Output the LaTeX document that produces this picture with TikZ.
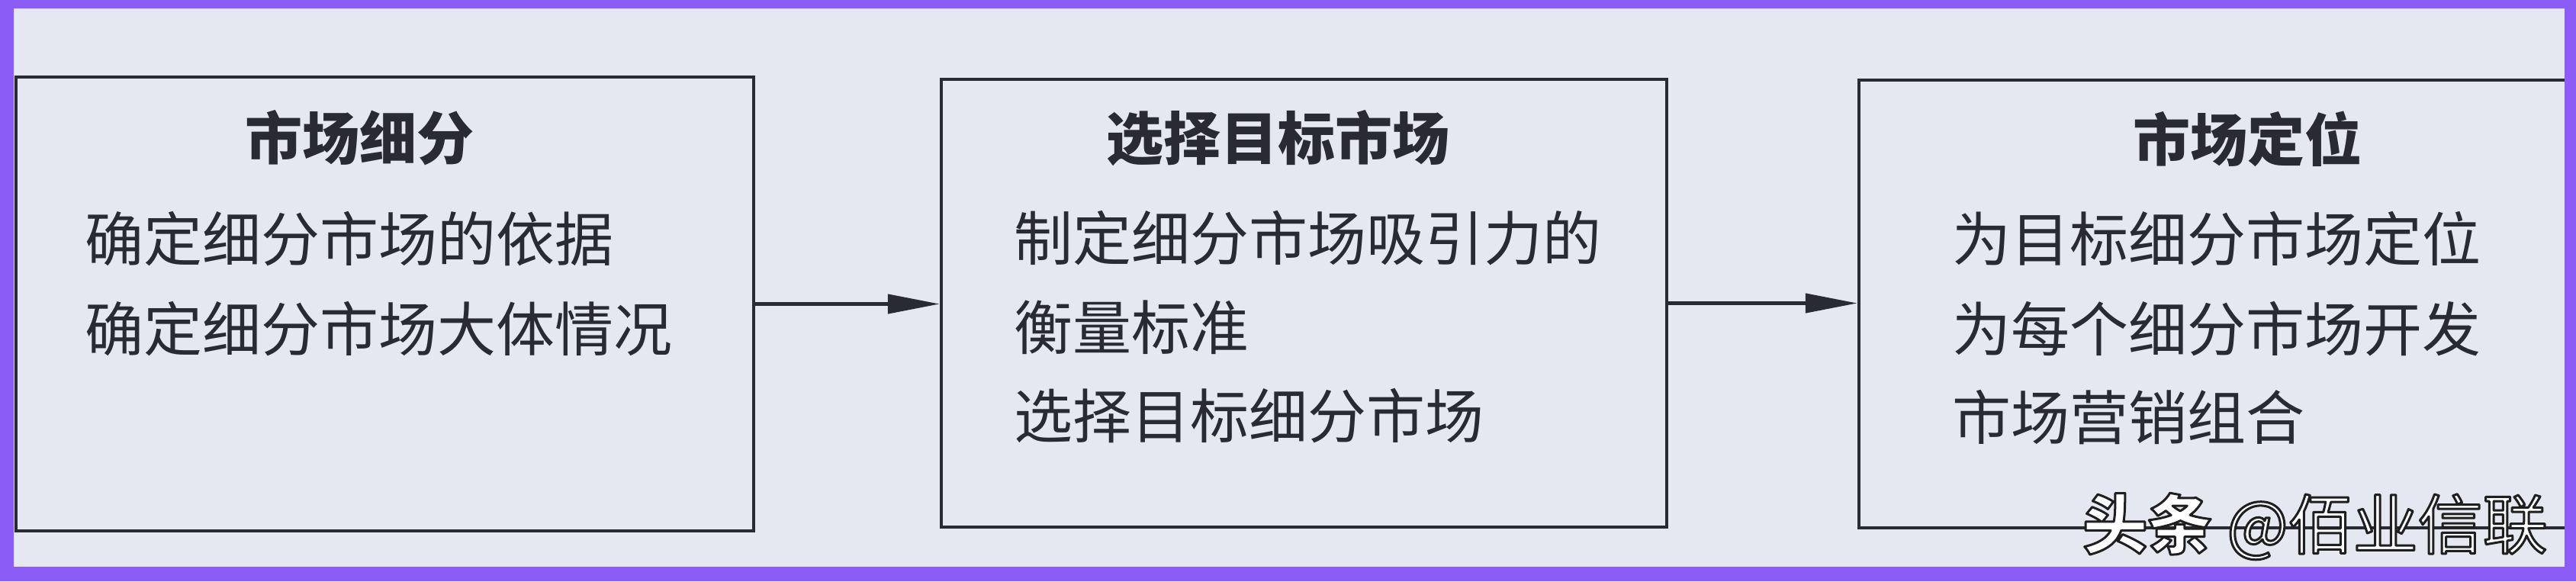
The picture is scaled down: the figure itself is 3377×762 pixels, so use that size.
\documentclass[tikz,border=0pt]{standalone}
\usepackage{fontspec}
\usetikzlibrary{arrows.meta}
\newfontfamily\cjk{Noto Sans CJK SC}
\definecolor{frameviolet}{RGB}{139,92,246}
\definecolor{paper}{RGB}{229,231,241}
\definecolor{ink}{RGB}{42,42,50}
% white letters with a dark rim (fill, then stroke)
\newcommand\rimon{\special{pdf:literal direct 0.12 G 0.6 w 1 j 2 Tr}}
\newcommand\rimoff{\special{pdf:literal direct 0 Tr}}

\tikzset{every picture/.style={line width=0.9pt}}
\tikzset{
  stagebox/.style={draw=ink, rectangle, inner sep=0pt},
  headtext/.style={anchor=west, inner sep=0pt, text=ink, font=\cjk\bfseries\fontsize{15}{18}\selectfont},
  itemtext/.style={anchor=west, inner sep=0pt, text=ink, font=\cjk\fontsize{15.4}{18}\selectfont},
  flow/.style={draw=ink, -{Triangle[length=13.6pt,width=5pt]}},
  marktext/.style={anchor=west, inner sep=0pt, text=white, font=\cjk\fontsize{17}{20}\selectfont},
}

\begin{document}
\begin{tikzpicture}[x=0.2pt,y=0.2pt,yscale=-1,xscale=1]
\useasboundingbox (0,0) rectangle (3377,762);
%paper
\fill [paper] (0,0) rectangle (3377,762);

%Shape: Rectangle [id:seg]
\node [stagebox, minimum width=193.4pt, minimum height=119pt] (seg) at (504.5,398.5) {};
%Shape: Rectangle [id:tgt]
\node [stagebox, minimum width=190.2pt, minimum height=117.4pt] (tgt) at (1709.5,397.5) {};
%Shape: Rectangle [id:pos]
\node [stagebox, minimum width=186.6pt, minimum height=117.4pt] (pos) at (2903.5,398.5) {};

%Straight Lines [id:segtgt]
\draw [flow] (seg.east) -- (seg.east -| tgt.west);
%Straight Lines [id:tgtpos]
\draw [flow] (tgt.east) -- (tgt.east -| pos.west);

% Text Node
\node [headtext] (seghead) at (319,181) {市场细分};
% Text Node
\node [itemtext] (segone) at (109,313) {确定细分市场的依据};
% Text Node
\node [itemtext] (segtwo) at (109,431) {确定细分市场大体情况};

% Text Node
\node [headtext] (tgthead) at (1448,181) {选择目标市场};
% Text Node
\node [itemtext] (tgtone) at (1327,312) {制定细分市场吸引力的};
% Text Node
\node [itemtext] (tgttwo) at (1327,429) {衡量标准};
% Text Node
\node [itemtext] (tgtthree) at (1327,545) {选择目标细分市场};

% Text Node
\node [headtext] (poshead) at (2794,182) {市场定位};
% Text Node
\node [itemtext] (posone) at (2557,313) {为目标细分市场定位};
% Text Node
\node [itemtext] (postwo) at (2557,431) {为每个细分市场开发};
% Text Node
\node [itemtext] (posthree) at (2557,547) {市场营销组合};

%frame
\fill [frameviolet, even odd rule] (0,0) rectangle (3377,762) (18,11) rectangle (3362,743);

% Text Node
\node [marktext] (mark) at (2728,690) {\rimon{\bfseries 头条} @佰业信联\rimoff};

\end{tikzpicture}
\end{document}
